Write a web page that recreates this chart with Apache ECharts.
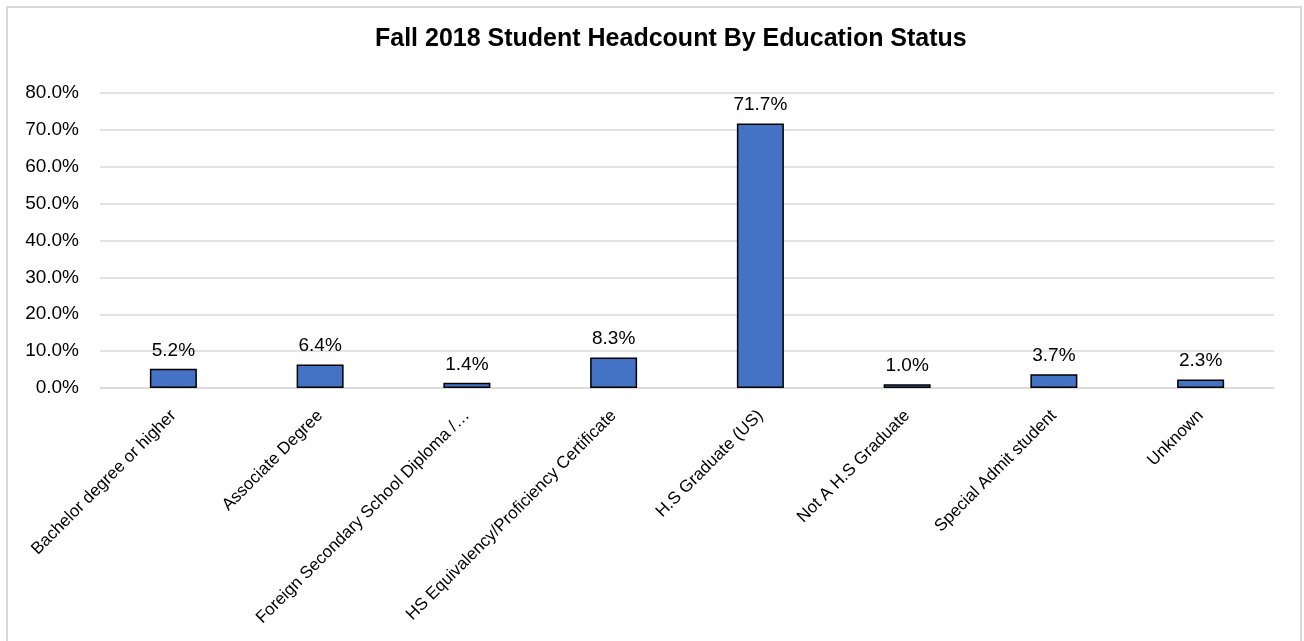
<!DOCTYPE html>
<html>
<head>
<meta charset="utf-8">
<script src="https://cdn.jsdelivr.net/npm/echarts@6/dist/echarts.min.js"></script>
<style>
  html, body { margin: 0; padding: 0; background: #fff; }
  #chart { width: 1304px; height: 641px; }
</style>
</head>
<body>
<div id="chart"></div>
<script>
// data
var categories = [
  'Bachelor degree or higher',
  'Associate Degree',
  'Foreign Secondary School Diploma /\u2026',
  'HS Equivalency/Proficiency Certificate',
  'H.S Graduate (US)',
  'Not A H.S Graduate',
  'Special Admit student',
  'Unknown'
]
var shares = [5.2, 6.4, 1.4, 8.3, 71.7, 1.0, 3.7, 2.3]
var yTicks = [0, 10, 20, 30, 40, 50, 60, 70, 80]

var font = '"Liberation Sans", Arial, sans-serif'
var chart = echarts.init(document.getElementById('chart'))

chart.setOption({
  animation: false,
  backgroundColor: '#fff',
  title: {
    text: 'Fall 2018 Student Headcount By Education Status',
    left: 370,
    top: 22,
    textStyle: { fontFamily: font, fontSize: 25, fontWeight: 'bold', color: '#000' }
  },
  graphic: [{
    type: 'rect',
    shape: { x: 7, y: 7, width: 1294, height: 700 },
    style: { fill: 'none', stroke: '#d9d9d9', lineWidth: 2 },
    silent: true
  }],
  grid: { left: 100, right: 30, top: 93, bottom: 253 },
  xAxis: {
    type: 'category',
    data: categories,
    axisLine: { lineStyle: { color: '#d9d9d9', width: 1.5 } },
    axisTick: { show: false },
    axisLabel: {
      rotate: 45,
      interval: 0,
      margin: 25,
      fontFamily: font,
      fontSize: 17,
      color: '#000'
    }
  },
  yAxis: {
    type: 'value',
    min: yTicks[0],
    max: yTicks[yTicks.length - 1],
    interval: 10,
    axisLine: { show: false },
    axisTick: { show: false },
    splitLine: { lineStyle: { color: '#d9d9d9', width: 1.5 } },
    axisLabel: {
      margin: 21,
      fontFamily: font,
      fontSize: 19,
      color: '#000',
      formatter: function (v) { return v.toFixed(1) + '%' }
    }
  },
  series: [{
    type: 'bar',
    data: shares,
    barWidth: 47,
    itemStyle: { color: '#4472c4', borderColor: '#000', borderWidth: 1.5 },
    label: {
      show: true,
      position: 'top',
      distance: 9,
      fontFamily: font,
      fontSize: 19,
      color: '#000',
      formatter: function (p) { return p.value.toFixed(1) + '%' }
    }
  }]
})
</script>
</body>
</html>
